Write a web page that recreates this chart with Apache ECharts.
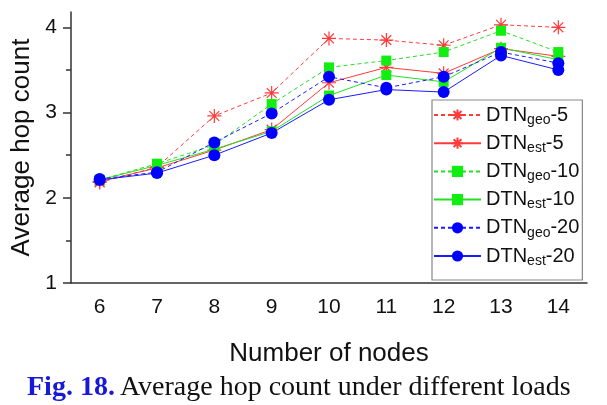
<!DOCTYPE html>
<html>
<head>
<meta charset="utf-8">
<script src="https://cdn.jsdelivr.net/npm/echarts@6/dist/echarts.min.js"></script>
<style>
html,body{margin:0;padding:0;background:#fff;}
#chart{width:607px;height:405px;}
</style>
</head>
<body>
<div id="chart"></div>
<script>
var categories = ['6','7','8','9','10','11','12','13','14'];
var geo5  = [2.18, 2.36, 2.96, 3.23, 3.87, 3.85, 3.79, 4.03, 4.00];
var est5  = [2.19, 2.35, 2.56, 2.80, 3.35, 3.53, 3.46, 3.75, 3.66];
var geo10 = [2.21, 2.40, 2.62, 3.10, 3.53, 3.61, 3.71, 3.96, 3.71];
var est10 = [2.21, 2.38, 2.57, 2.78, 3.20, 3.44, 3.36, 3.76, 3.62];
var geo20 = [2.22, 2.30, 2.65, 2.99, 3.42, 3.29, 3.42, 3.71, 3.58];
var est20 = [2.21, 2.29, 2.50, 2.76, 3.15, 3.27, 3.24, 3.67, 3.50];
var yLabels = [1, 2, 3, 4];
var seriesNames = ['DTNgeo-5','DTNest-5','DTNgeo-10','DTNest-10','DTNgeo-20','DTNest-20'];

var ASTER = 'path://M0,10L20,10M10,0L10,20M3,3L17,17M17,3L3,17';
var RED = '#ff3a3a', GREEN = '#22e022', BLUE = '#1a1aff';

function mk(name, data, color, mcolor, dashed, symbol, size, isPath) {
  return {
    name: name, type: 'line', data: data,
    symbol: symbol, symbolSize: size,
    lineStyle: {color: color, width: 1, type: dashed ? [4, 3] : 'solid'},
    itemStyle: isPath ? {color: 'none', borderColor: mcolor, borderWidth: 1.2}
                      : {color: mcolor, borderColor: mcolor, borderWidth: 0},
    emphasis: {disabled: true},
    animation: false
  };
}

var chart = echarts.init(document.getElementById('chart'));
var axisColor = '#333';
var fontSans = 'Liberation Sans, Arial, sans-serif';
var fontSerif = 'Liberation Serif, Times New Roman, serif';

chart.setOption({
  animation: false,
  grid: {left: 71, right: 20, top: 12, bottom: 122},
  title: {
    text: '{b|Fig. 18.} {n|Average hop count under different loads}',
    left: 22, top: 368,
    textStyle: {
      fontWeight: 'normal',
      rich: {
        b: {fontFamily: fontSerif, fontWeight: 'bold', fontSize: 28, color: '#1818d8', lineHeight: 30},
        n: {fontFamily: fontSerif, fontWeight: 'normal', fontSize: 28, color: '#111', lineHeight: 30}
      }
    }
  },
  legend: {
    orient: 'vertical',
    left: 432, top: 100,
    padding: [5, 3, 12, 1],
    itemWidth: 47, itemHeight: 14, itemGap: 6.2,
    borderColor: '#888', borderWidth: 1.2,
    backgroundColor: '#fff',
    data: seriesNames,
    formatter: function (n) {
      var m = n.match(/^DTN(geo|est)(-\d+)$/);
      return '{m|DTN}{s|' + m[1] + '}{m|' + m[2] + '}';
    },
    textStyle: {
      rich: {
        m: {fontFamily: fontSans, fontSize: 20, color: '#111', lineHeight: 24},
        s: {fontFamily: fontSans, fontSize: 14, color: '#111', lineHeight: 8, verticalAlign: 'bottom'}
      }
    }
  },
  xAxis: {
    type: 'category', data: categories, boundaryGap: true,
    name: 'Number of nodes', nameLocation: 'middle', nameGap: 58,
    nameTextStyle: {fontFamily: fontSans, fontSize: 26, color: '#111'},
    axisLine: {lineStyle: {color: axisColor, width: 1.5}},
    axisTick: {alignWithLabel: true, length: 8, lineStyle: {color: axisColor, width: 1.5}},
    axisLabel: {fontFamily: fontSans, fontSize: 21, color: '#111', margin: 14},
    splitLine: {show: false}
  },
  yAxis: {
    type: 'value', min: 1, max: 4.18, interval: 1,
    name: 'Average hop count', nameLocation: 'middle', nameGap: 36,
    nameTextStyle: {fontFamily: fontSans, fontSize: 26, color: '#111'},
    axisLine: {show: true, lineStyle: {color: axisColor, width: 1.5}},
    axisTick: {show: true, length: 8, customValues: yLabels, lineStyle: {color: axisColor, width: 1.5}},
    minorTick: {show: true, splitNumber: 2, length: 5, lineStyle: {color: axisColor, width: 1.5}},
    axisLabel: {fontFamily: fontSans, fontSize: 21, color: '#111', margin: 14, customValues: yLabels},
    splitLine: {show: false},
    minorSplitLine: {show: false}
  },
  series: [
    mk(seriesNames[0], geo5, RED, RED, true, ASTER, 14, true),
    mk(seriesNames[1], est5, RED, RED, false, ASTER, 14, true),
    mk(seriesNames[2], geo10, GREEN, '#11ee11', true, 'rect', 10, false),
    mk(seriesNames[3], est10, GREEN, '#11ee11', false, 'rect', 10, false),
    mk(seriesNames[4], geo20, BLUE, '#0000ff', true, 'circle', 12, false),
    mk(seriesNames[5], est20, BLUE, '#0000ff', false, 'circle', 12, false)
  ]
});
</script>
</body>
</html>
